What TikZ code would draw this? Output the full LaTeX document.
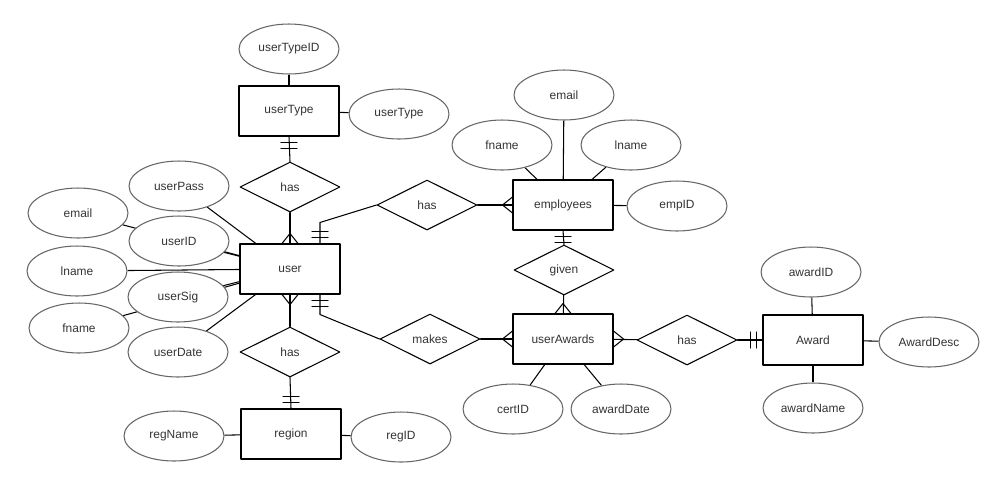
\documentclass[tikz,border=0pt]{standalone}
\usepackage{fontspec}
\setmainfont{Liberation Sans}
\usetikzlibrary{shapes.geometric,calc,backgrounds}

\begin{document}
\begin{tikzpicture}[x=0.02cm, y=-0.02cm, line cap=round, line join=round,
  font=\fontsize{6.8}{8}\selectfont]

% ---------- styles ----------
\tikzset{
  erEntity/.style ={draw, line width=0.6pt, fill=white, text=black!80,
                    minimum width=2cm, minimum height=1cm, inner sep=0pt},
  erAttr/.style   ={ellipse, draw=black!60, line width=0.6pt, fill=white, text=black!80,
                    minimum width=2cm, minimum height=1cm, inner sep=0pt},
  erRel/.style    ={diamond, aspect=2, draw, line width=0.6pt, fill=white, text=black!80,
                    minimum width=2cm, minimum height=1cm, inner sep=0pt},
  erLink/.style   ={draw, line width=0.6pt},
  crowfoot/.pic   ={\draw[line width=0.6pt] (0,0) -- (10,-8) (0,0) -- (10,8);},
  twobars/.pic    ={\draw[line width=0.6pt] (6,-8) -- (6,8) (12,-8) -- (12,8);}
}

\useasboundingbox (0,0) rectangle (1006,488);

% ---------- entities ----------
\node[erEntity] (userType)   at (289,111) {userType};
\node[erEntity] (user)       at (290,269) {user};
\node[erEntity] (employees)  at (563,205) {employees};
\node[erEntity] (userAwards) at (563,339) {userAwards};
\node[erEntity] (award)      at (813,340) {Award};
\node[erEntity] (region)     at (291,434) {region};

% ---------- relationships ----------
\node[erRel] (hasType)   at (290,187) {has};
\node[erRel] (hasEmp)    at (427,205) {has};
\node[erRel] (given)     at (564,270) {given};
\node[erRel] (makes)     at (430,339) {makes};
\node[erRel] (hasAward)  at (687,340) {has};
\node[erRel] (hasRegion) at (290,352) {has};

% ---------- attributes ----------
\node[erAttr] (userTypeID) at (289,49)  {userTypeID};
\node[erAttr] (typeName)   at (399,114) {userType};
\node[erAttr] (userPass)   at (179,186) {userPass};
\node[erAttr] (userEmail)  at (78,213)  {email};
\node[erAttr] (userID)     at (179,241) {userID};
\node[erAttr] (userLname)  at (77,271)  {lname};
\node[erAttr] (userSig)    at (178,297) {userSig};
\node[erAttr] (userFname)  at (79,328)  {fname};
\node[erAttr] (userDate)   at (178,352) {userDate};
\node[erAttr] (empEmail)   at (564,95)  {email};
\node[erAttr] (empFname)   at (502,145) {fname};
\node[erAttr] (empLname)   at (631,145) {lname};
\node[erAttr] (empID)      at (677,206) {empID};
\node[erAttr] (certID)     at (513,409) {certID};
\node[erAttr] (awardDate)  at (621,409) {awardDate};
\node[erAttr] (awardID)    at (811,272) {awardID};
\node[erAttr] (awardDesc)  at (929,342) {AwardDesc};
\node[erAttr] (awardName)  at (813,408) {awardName};
\node[erAttr] (regName)    at (174,436) {regName};
\node[erAttr] (regID)      at (401,437) {regID};

% ---------- attribute links (behind the shapes) ----------
\begin{scope}[on background layer]
\draw[erLink] (userTypeID) -- (userType);
\draw[erLink] (typeName)   -- (userType);
\draw[erLink] (userPass)   -- (user);
\draw[erLink] (userEmail)  -- (user);
\draw[erLink] (userID)     -- (user);
\draw[erLink] (userLname)  -- (user);
\draw[erLink] (userSig)    -- (user);
\draw[erLink] (userFname)  -- (user);
\draw[erLink] (userDate)   -- (user);
\draw[erLink] (empEmail)   -- (employees);
\draw[erLink] (empFname)   -- (employees);
\draw[erLink] (empLname)   -- (employees);
\draw[erLink] (empID)      -- (employees);
\draw[erLink] (certID)     -- (userAwards);
\draw[erLink] (awardDate)  -- (userAwards);
\draw[erLink] (awardID)    -- (award);
\draw[erLink] (awardDesc)  -- (award);
\draw[erLink] (awardName)  -- (award);
\draw[erLink] (regName)    -- (region);
\draw[erLink] (regID)      -- (region);
\end{scope}

% ---------- relationship links ----------
\draw[erLink] (userType.south) -- (hasType.north);
\draw[erLink] (hasType) -- (user);
\draw[erLink] ($(user.north)+(30,0)$) -- ++(0,-21) -- (hasEmp.west);
\draw[erLink] (hasEmp) -- (employees);
\draw[erLink] (employees.south) -- (given.north);
\draw[erLink] (given) -- (userAwards);
\draw[erLink] ($(user.south)+(30,0)$) -- ++(0,20) -- (makes.west);
\draw[erLink] (makes) -- (userAwards);
\draw[erLink] (userAwards) -- (hasAward);
\draw[erLink] (hasAward) -- (award);
\draw[erLink] (user) -- (hasRegion);
\draw[erLink] (hasRegion.south) -- (region.north);

% ---------- cardinality marks ----------
\pic[rotate=-90] at (userType.south) {twobars};
\pic[rotate=-90] at ($(user.north)+(0,-10)$) {crowfoot};
\pic[rotate=90]  at ($(user.north)+(30,0)$) {twobars};
\pic             at ($(employees.west)+(-10,0)$) {crowfoot};
\pic[rotate=-90] at (employees.south) {twobars};
\pic[rotate=-90] at ($(userAwards.north)+(0,-10)$) {crowfoot};
\pic[rotate=-90] at ($(user.south)+(30,0)$) {twobars};
\pic             at ($(userAwards.west)+(-10,0)$) {crowfoot};
\pic[rotate=180] at ($(userAwards.east)+(10,0)$) {crowfoot};
\pic[rotate=180] at (award.west) {twobars};
\pic[rotate=90]  at ($(user.south)+(0,10)$) {crowfoot};
\pic[rotate=90]  at (region.north) {twobars};

\end{tikzpicture}
\end{document}
